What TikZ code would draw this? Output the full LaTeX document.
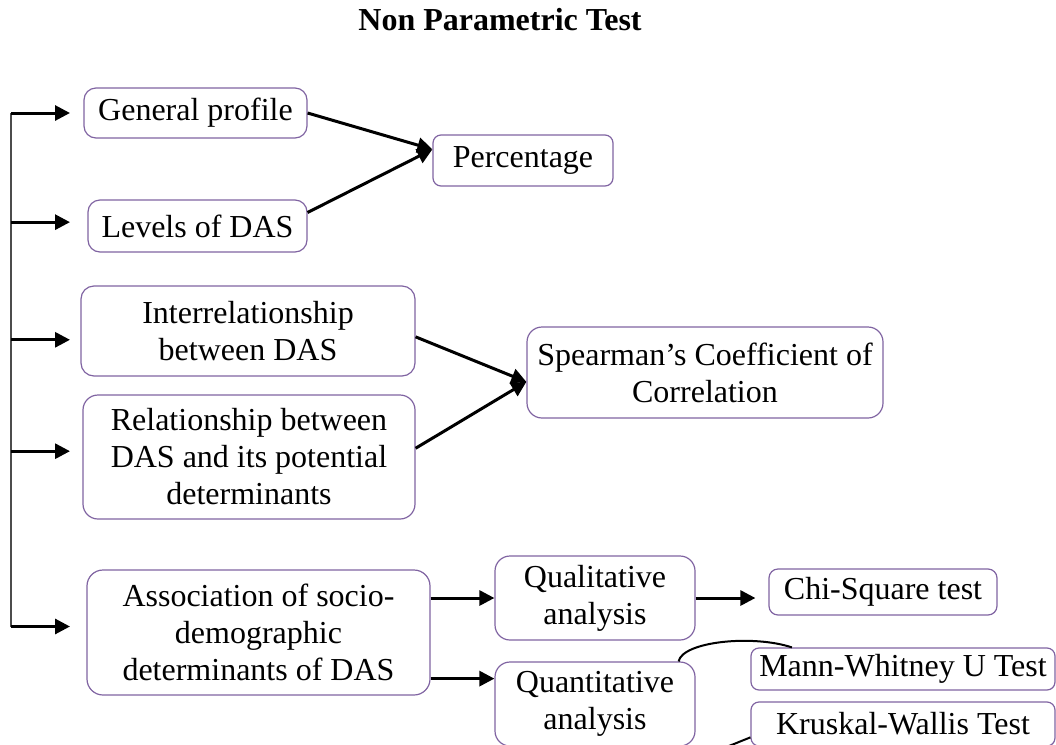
\documentclass[tikz,border=0pt]{standalone}
\usepackage{fontspec}
\setmainfont{Liberation Serif}
\usepackage{tikz}
\usetikzlibrary{arrows.meta}
\usetikzlibrary{calc}
\definecolor{boxpurple}{HTML}{8064A2}

\begin{document}
\begin{tikzpicture}[x=0.5pt,y=-0.5pt,
box/.style={draw=boxpurple, line width=0.6pt, rounded corners=#1, align=center, inner sep=0pt, font=\fontsize{16}{18.5}\selectfont},
box/.default=6pt,
arr/.style={line width=1.5pt, -{Triangle[length=7.5pt,width=7.5pt]}},
link/.style={line width=1pt}]

\useasboundingbox (0,0) rectangle (1056,745);

\node[anchor=base, font=\fontsize{16}{18.5}\selectfont\bfseries] (title) at (500,30) {Non Parametric Test};

% boxes
{
\node[box, minimum width=111.5pt, minimum height=25pt] (gp) at (195.5,113) {General profile};
\node[box, minimum width=109.5pt, minimum height=26pt] (lv) at (197.5,226) {Levels of DAS};
\node[box=4pt, minimum width=90pt, minimum height=25.5pt] (pct) at (523,160.5) {Percentage};

\node[box=6.5pt, minimum width=167pt, minimum height=45pt] (ir) at (248,331) {Interrelationship\\between DAS};
\node[box=7.5pt, minimum width=166pt, minimum height=62pt] (rl) at (249,457) {Relationship between\\DAS and its potential\\determinants};
\node[box=7.5pt, minimum width=178pt, minimum height=45.5pt] (sp) at (705,372.5) {Spearman’s Coefficient of\\Correlation};

\node[box=8pt, minimum width=171.5pt, minimum height=62.5pt] (as) at (258.5,632.5) {Association of socio-\\demographic\\determinants of DAS};
\node[box=7.5pt, minimum width=100pt, minimum height=42pt] (ql) at (595,598) {Qualitative\\analysis};
\node[box=7.5pt, minimum width=100pt, minimum height=42pt] (qn) at (595,704) {Quantitative\\analysis};
\node[box=4.5pt, minimum width=114pt, minimum height=23pt] (cs) at (883,592) {Chi-Square test};
\node[box=4pt, minimum width=152pt, minimum height=21pt] (mw) at (903,669) {Mann-Whitney U Test};
\node[box=4pt, minimum width=152pt, minimum height=22pt] (kw) at (903,724) {Kruskal-Wallis Test};
}

% left bracket
\coordinate (trunk) at (11,0);
\coordinate (tip) at (70,0);
\draw[black!70, line width=0.7pt] (trunk |- gp.west) -- (trunk |- as.178);
\foreach \n/\a in {gp/180, lv/178.4, ir/183.1, rl/178.6, as/178.2}
  \draw[arr] (trunk |- \n.\a) -- (tip |- \n.\a);

% arrows
{
\draw[arr] (gp.east) -- (pct.173);
\draw[arr] (lv.7) -- (pct.173);

\draw[arr] (ir.-2) -- (sp.183);
\draw[arr] (rl.3) -- (sp.183);

\draw[arr] (as.east |- ql.west) -- (ql.west);
\draw[arr] (as.345) -- (as.345 -| qn.west);
\draw[arr, shorten >=6.5pt] (ql.east) -- (ql.east -| cs.west);

\draw[link] (qn.27) .. controls +(4,-20) and +(-39,-13) .. (mw.169);
\draw[link] (qn.-27) .. controls +(4,20) and +(-30,12) .. (kw.185);
}

\end{tikzpicture}
\end{document}
